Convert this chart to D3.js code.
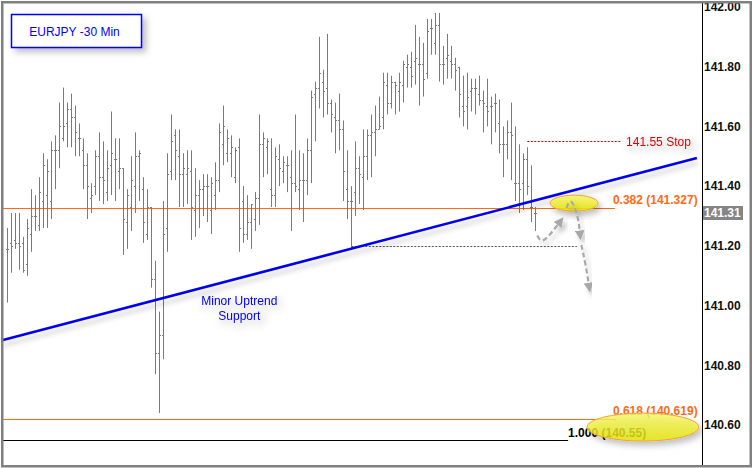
<!DOCTYPE html>
<html><head><meta charset="utf-8">
<script src="https://cdn.jsdelivr.net/npm/d3@7"></script>
<style>html,body{margin:0;padding:0;background:#fff;} svg{display:block;}</style>
</head><body>
<svg id="chart" width="753" height="468"></svg>
<script>
// ---- Data (30-min OHLC bars, EURJPY) ----
const opens = [141.19,141.21,141.22,141.21,141.21,141.14,141.24,141.30,141.27,141.35,141.37,141.35,141.52,141.52,141.56,141.61,141.66,141.63,141.56,141.52,141.47,141.36,141.40,141.50,141.43,141.38,141.47,141.49,141.45,141.46,141.28,141.33,141.40,141.50,141.39,141.24,141.33,141.09,140.84,140.90,141.26,141.45,141.57,141.50,141.44,141.44,141.45,141.32,141.37,141.39,141.40,141.32,141.37,141.42,141.54,141.51,141.51,141.43,141.53,141.35,141.24,141.28,141.29,141.36,141.54,141.53,141.39,141.37,141.49,141.45,141.47,141.43,141.41,141.39,141.42,141.42,141.52,141.71,141.73,141.75,141.73,141.68,141.63,141.62,141.59,141.39,141.35,141.38,141.46,141.43,141.50,141.57,141.58,141.59,141.63,141.74,141.68,141.75,141.72,141.74,141.80,141.80,141.82,141.81,141.81,141.78,141.93,141.88,141.94,141.81,141.83,141.82,141.81,141.80,141.67,141.67,141.72,141.73,141.71,141.69,141.67,141.67,141.68,141.61,141.54,141.54,141.58,141.41,141.41,141.41,141.49,141.33,141.31];
const highs = [141.26,141.31,141.31,141.31,141.23,141.29,141.39,141.37,141.43,141.51,141.49,141.55,141.57,141.68,141.73,141.68,141.71,141.67,141.61,141.56,141.51,141.41,141.52,141.58,141.55,141.52,141.65,141.56,141.56,141.46,141.39,141.50,141.58,141.52,141.43,141.39,141.33,141.15,140.98,141.35,141.51,141.64,141.59,141.59,141.51,141.52,141.52,141.46,141.42,141.44,141.44,141.43,141.48,141.61,141.67,141.59,141.57,141.53,141.56,141.40,141.37,141.34,141.38,141.64,141.58,141.56,141.56,141.53,141.54,141.50,141.50,141.52,141.64,141.52,141.51,141.56,141.72,141.75,141.90,141.79,141.91,141.69,141.68,141.71,141.62,141.52,141.40,141.55,141.50,141.59,141.59,141.64,141.67,141.70,141.78,141.78,141.77,141.75,141.78,141.82,141.84,141.85,141.94,141.90,141.88,141.96,141.96,141.98,141.98,141.87,141.91,141.87,141.83,141.80,141.77,141.78,141.76,141.76,141.77,141.72,141.76,141.70,141.71,141.69,141.60,141.62,141.68,141.60,141.54,141.51,141.53,141.47,141.33];
const lows = [141.01,141.11,141.19,141.12,141.11,141.10,141.18,141.25,141.25,141.26,141.26,141.29,141.39,141.46,141.55,141.53,141.53,141.50,141.50,141.39,141.29,141.31,141.37,141.35,141.34,141.35,141.37,141.35,141.39,141.17,141.19,141.25,141.31,141.35,141.21,141.22,141.06,140.77,140.64,140.82,141.18,141.42,141.42,141.33,141.33,141.34,141.22,141.23,141.26,141.30,141.28,141.24,141.32,141.38,141.47,141.48,141.43,141.41,141.18,141.21,141.22,141.19,141.25,141.27,141.43,141.44,141.33,141.33,141.40,141.41,141.38,141.25,141.38,141.32,141.28,141.37,141.41,141.55,141.66,141.63,141.64,141.58,141.51,141.52,141.35,141.29,141.19,141.30,141.34,141.32,141.42,141.43,141.50,141.59,141.59,141.64,141.66,141.64,141.65,141.68,141.73,141.73,141.74,141.67,141.70,141.76,141.84,141.84,141.75,141.74,141.76,141.76,141.72,141.63,141.60,141.59,141.65,141.64,141.67,141.58,141.60,141.54,141.58,141.51,141.43,141.49,141.42,141.35,141.31,141.32,141.37,141.28,141.25];
const closes = [141.19,141.20,141.21,141.20,141.12,141.26,141.30,141.30,141.38,141.47,141.45,141.52,141.52,141.60,141.60,141.66,141.63,141.58,141.56,141.47,141.40,141.37,141.50,141.43,141.42,141.46,141.51,141.49,141.46,141.29,141.37,141.42,141.50,141.51,141.28,141.33,141.09,140.84,140.90,141.24,141.44,141.55,141.52,141.44,141.46,141.46,141.33,141.37,141.39,141.40,141.40,141.41,141.42,141.58,141.60,141.56,141.53,141.52,141.26,141.24,141.28,141.34,141.36,141.54,141.56,141.55,141.37,141.50,141.46,141.48,141.47,141.41,141.40,141.42,141.42,141.52,141.70,141.73,141.78,141.72,141.68,141.64,141.62,141.59,141.45,141.35,141.35,141.46,141.44,141.50,141.57,141.58,141.59,141.60,141.75,141.68,141.75,141.74,141.75,141.81,141.81,141.77,141.83,141.81,141.76,141.92,141.93,141.94,141.81,141.81,141.84,141.81,141.79,141.71,141.65,141.70,141.73,141.73,141.69,141.68,141.65,141.67,141.68,141.54,141.54,141.58,141.57,141.41,141.39,141.49,141.40,141.33,141.31];

const yTicks = [142.00, 141.80, 141.60, 141.40, 141.20, 141.00, 140.80, 140.60];
const lastPrice = 141.31;
const fibLevels = [
  {name: "0.382", value: 141.327},
  {name: "0.618", value: 140.619},
  {name: "1.000", value: 140.55}
];
const stopLevel = 141.55;
const supportLevel = 141.20;
// trendline endpoints as [bar index, price]
const trendLine = [[-1.3, 140.884], [172.4, 141.494]];
// projected path arrows as [bar index, price]
const arrow1 = [[132.5, 141.235], [133.7, 141.205], [137.0, 141.26], [138.3, 141.283]];
const arrow2 = [[139.8, 141.327], [140.9, 141.365], [142.8, 141.295], [143.2, 141.235]];
const arrow3 = [[143.5, 141.203], [144.5, 141.145], [145.5, 141.06]];
const title = "EURJPY -30 Min";

// ---- Scales ----
const svg = d3.select("#chart");
const x = d3.scaleLinear().domain([0, 132]).range([7.3, 535.3]);
const y = d3.scaleLinear().domain([140.6, 142.0]).range([425, 7]);
const ys = v => Math.round(y(v)) + 0.5;

const defs = svg.append("defs");
function shadow(id, dx, dy, sd, op) {
  const f = defs.append("filter").attr("id", id).attr("x", "-30%").attr("y", "-50%").attr("width", "160%").attr("height", "200%");
  f.append("feDropShadow").attr("dx", dx).attr("dy", dy).attr("stdDeviation", sd)
    .attr("flood-color", "#000").attr("flood-opacity", op);
}
shadow("sh-box", 4, 4, 3, 0.25);
shadow("sh-line", 1, 5, 2.5, 0.2);
shadow("sh-ell", 3, 4, 3, 0.3);
shadow("sh-arrow", 3, 4, 2.5, 0.25);
const glow = defs.append("filter").attr("id", "glow").attr("x", "-20%").attr("y", "-50%").attr("width", "140%").attr("height", "200%");
glow.append("feMorphology").attr("in", "SourceAlpha").attr("operator", "dilate").attr("radius", 3).attr("result", "d");
glow.append("feGaussianBlur").attr("in", "d").attr("stdDeviation", 3).attr("result", "b");
glow.append("feFlood").attr("flood-color", "#000").attr("flood-opacity", 0.06);
glow.append("feComposite").attr("in2", "b").attr("operator", "in").attr("result", "s");
glow.append("feOffset").attr("in", "s").attr("dx", 3).attr("dy", 3).attr("result", "so");
const gm = glow.append("feMerge");
gm.append("feMergeNode").attr("in", "so");
gm.append("feMergeNode").attr("in", "SourceGraphic");

const grad = defs.append("linearGradient").attr("id", "yel").attr("x1", 0).attr("y1", 0).attr("x2", 0).attr("y2", 1);
grad.append("stop").attr("offset", "0%").attr("stop-color", "#f6f66a");
grad.append("stop").attr("offset", "100%").attr("stop-color", "#e6e600");

const mk = defs.append("marker").attr("id", "ah").attr("viewBox", "0 0 10 10").attr("refX", 5).attr("refY", 5)
  .attr("markerWidth", 4.5).attr("markerHeight", 4.5).attr("orient", "auto");
mk.append("path").attr("d", "M0,0 L10,5 L0,10 Z").attr("fill", "#a8a8a8");

// background
svg.append("rect").attr("width", 753).attr("height", 468).attr("fill", "#fff");

// ---- Fib / level lines ----
const xl = x(-1.3);
svg.append("line").attr("x1", xl).attr("x2", x(151.9)).attr("y1", ys(fibLevels[0].value)).attr("y2", ys(fibLevels[0].value))
  .attr("stroke", "#ff6a13").attr("stroke-width", 1.2);
svg.append("line").attr("x1", xl).attr("x2", x(152.2)).attr("y1", ys(fibLevels[1].value)).attr("y2", ys(fibLevels[1].value))
  .attr("stroke", "#ff6a13").attr("stroke-width", 1);
svg.append("line").attr("x1", xl).attr("x2", x(140.2)).attr("y1", ys(fibLevels[2].value)).attr("y2", ys(fibLevels[2].value))
  .attr("stroke", "#000").attr("stroke-width", 1);

// dashed support
svg.append("line").attr("x1", x(86)).attr("x2", x(142.4)).attr("y1", ys(supportLevel)).attr("y2", ys(supportLevel))
  .attr("stroke", "#555").attr("stroke-width", 1).attr("stroke-dasharray", "2,1.5");
// dashed stop
svg.append("line").attr("x1", x(130)).attr("x2", x(153.4)).attr("y1", ys(stopLevel)).attr("y2", ys(stopLevel))
  .attr("stroke", "#e00000").attr("stroke-width", 1).attr("stroke-dasharray", "2,1.5");

// ---- OHLC bars ----
const data = opens.map((o, i) => ({i, o, h: highs[i], l: lows[i], c: closes[i]}));
const gBars = svg.append("g").attr("stroke", "#7a7a7a").attr("stroke-width", 1);
data.forEach(d => {
  const cx = Math.round(x(d.i)) + 0.5;
  gBars.append("line").attr("x1", cx).attr("x2", cx).attr("y1", y(d.h)).attr("y2", y(d.l));
  gBars.append("line").attr("x1", cx - 1.5).attr("x2", cx).attr("y1", ys(d.o)).attr("y2", ys(d.o));
  gBars.append("line").attr("x1", cx).attr("x2", cx + 1.5).attr("y1", ys(d.c)).attr("y2", ys(d.c));
});

// ---- Trendline ----
svg.append("line")
  .attr("x1", x(trendLine[0][0])).attr("y1", y(trendLine[0][1]))
  .attr("x2", x(trendLine[1][0])).attr("y2", y(trendLine[1][1]))
  .attr("stroke", "#0000ee").attr("stroke-width", 2.6).attr("filter", "url(#sh-line)");

// ---- Labels ----
svg.append("text").attr("x", x(154.7)).attr("y", y(stopLevel)).attr("dy", "0.35em")
  .attr("font-family", "Liberation Sans, Arial, sans-serif").attr("font-size", 12).attr("fill", "#e00000")
  .attr("filter", "url(#glow)").text(stopLevel.toFixed(2) + " Stop");
svg.append("text").attr("x", x(151.4)).attr("y", y(141.355)).attr("dy", "0.35em")
  .attr("font-family", "Liberation Sans, Arial, sans-serif").attr("font-size", 12).attr("font-weight", "bold").attr("fill", "#ff6a13")
  .text(fibLevels[0].name + " (" + fibLevels[0].value.toFixed(3) + ")");
svg.append("text").attr("x", x(151.4)).attr("y", y(140.646)).attr("dy", "0.35em")
  .attr("font-family", "Liberation Sans, Arial, sans-serif").attr("font-size", 12).attr("font-weight", "bold").attr("fill", "#ff6a13")
  .text(fibLevels[1].name + " (" + fibLevels[1].value.toFixed(3) + ")");
svg.append("text").attr("x", x(140.2)).attr("y", y(140.575)).attr("dy", "0.35em")
  .attr("font-family", "Liberation Sans, Arial, sans-serif").attr("font-size", 12).attr("font-weight", "bold").attr("fill", "#000")
  .text(fibLevels[2].name + " (" + fibLevels[2].value.toFixed(2) + ")");

// ---- Yellow ellipses ----
svg.append("ellipse").attr("cx", x(141.7)).attr("cy", y(141.343)).attr("rx", 24).attr("ry", 8)
  .attr("fill", "url(#yel)").attr("fill-opacity", 0.85).attr("stroke", "#f0a040").attr("stroke-width", 1)
  .attr("filter", "url(#sh-ell)");
svg.append("ellipse").attr("cx", x(158.9)).attr("cy", y(140.593)).attr("rx", 56).attr("ry", 14)
  .attr("fill", "url(#yel)").attr("fill-opacity", 0.8).attr("stroke", "#f0a040").attr("stroke-width", 1)
  .attr("filter", "url(#sh-ell)");

// ---- Arrows (above ellipses) ----
const lineGen = d3.line().x(d => x(d[0])).y(d => y(d[1])).curve(d3.curveBasis);
[arrow1, arrow2, arrow3].forEach(a => {
  svg.append("path").attr("d", lineGen(a)).attr("fill", "none").attr("stroke", "#a8a8a8")
    .attr("stroke-width", 2.2).attr("stroke-dasharray", "5,3").attr("marker-end", "url(#ah)")
    .attr("filter", "url(#sh-arrow)");
});

// Minor uptrend support label
const sup = svg.append("text").attr("font-family", "Liberation Sans, Arial, sans-serif").attr("font-size", 12)
  .attr("fill", "#0000ee").attr("text-anchor", "middle").attr("filter", "url(#glow)");
sup.append("tspan").attr("x", x(58)).attr("y", y(141.017)).attr("dy", "0.35em").text("Minor Uptrend");
sup.append("tspan").attr("x", x(58)).attr("y", y(140.967)).attr("dy", "0.35em").text("Support");

// ---- Title box ----
svg.append("rect").attr("x", 11.5).attr("y", 14.5).attr("width", 130).attr("height", 33)
  .attr("fill", "#fff").attr("stroke", "#0000ff").attr("stroke-width", 1.5).attr("filter", "url(#sh-box)");
svg.append("text").attr("x", 74.5).attr("y", 31.5).attr("dy", "0.35em").attr("text-anchor", "middle")
  .attr("font-family", "Liberation Sans, Arial, sans-serif").attr("font-size", 12).attr("fill", "#0000ff").text(title);

// ---- Right axis ----
svg.append("rect").attr("x", 702).attr("y", 3).attr("width", 48).attr("height", 462).attr("fill", "#fff");
svg.append("line").attr("x1", 702.5).attr("x2", 702.5).attr("y1", 2).attr("y2", 466).attr("stroke", "#000").attr("stroke-width", 1);
const axis = d3.axisRight(y).tickValues(yTicks).tickFormat(d3.format(".2f")).tickSize(0).tickPadding(2);
const gAx = svg.append("g").attr("transform", "translate(702,0)").call(axis);
gAx.select(".domain").remove();
gAx.selectAll("text").attr("font-family", "Liberation Sans, Arial, sans-serif").attr("font-size", 12)
  .attr("font-weight", "bold").attr("fill", "#111");
// last price tag
svg.append("rect").attr("x", 703).attr("y", y(lastPrice) - 7).attr("width", 40).attr("height", 14).attr("fill", "#858585");
svg.append("text").attr("x", 704).attr("y", y(lastPrice)).attr("dy", "0.35em")
  .attr("font-family", "Liberation Sans, Arial, sans-serif").attr("font-size", 12).attr("font-weight", "bold")
  .attr("fill", "#fff").text(lastPrice.toFixed(2));

// ---- Frame ----
svg.append("rect").attr("x", 2.25).attr("y", 2.25).attr("width", 748.5).attr("height", 464)
  .attr("fill", "none").attr("stroke", "#808080").attr("stroke-width", 2.5);
</script>
</body></html>
